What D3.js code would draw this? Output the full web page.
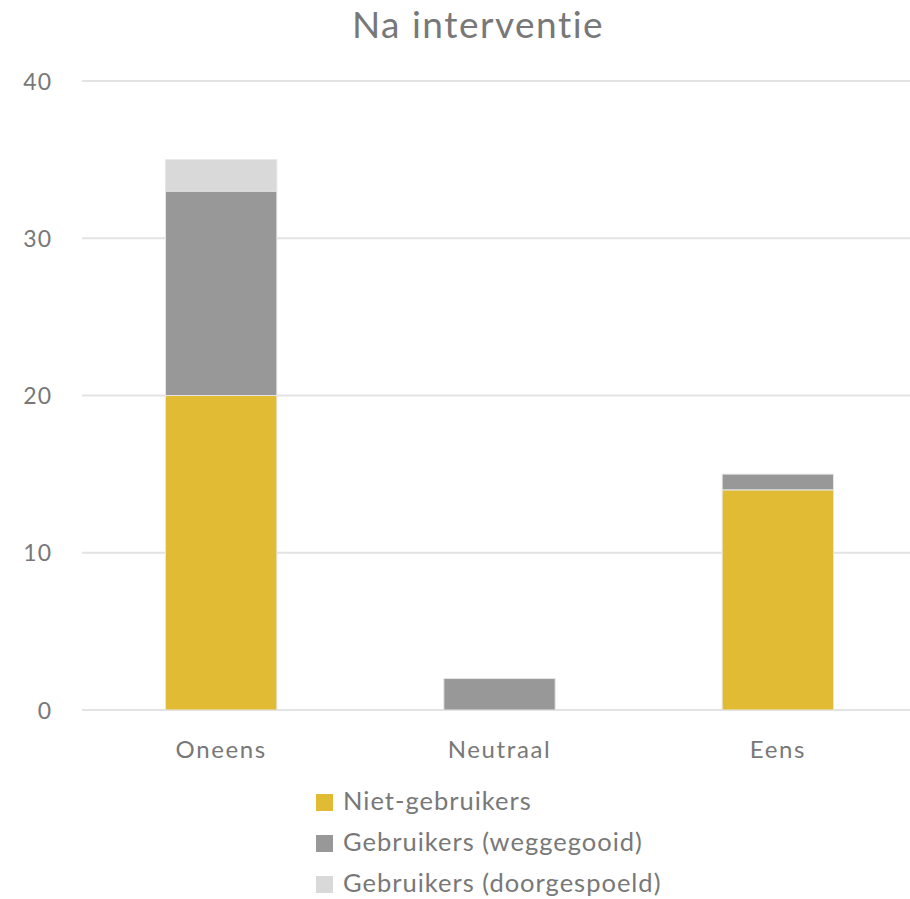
<!DOCTYPE html>
<html>
<head>
<meta charset="utf-8">
<script src="https://cdn.jsdelivr.net/npm/d3@7"></script>
<style>
  body { margin: 0; background: #fff; }
  svg text { font-family: Lato, "Noto Sans", sans-serif; fill: #787878; }
</style>
</head>
<body>
<svg id="chart" width="910" height="899"></svg>
<script>
// Chart data
const categories = ["Oneens", "Neutraal", "Eens"];
const seriesNames = ["Niet-gebruikers", "Gebruikers (weggegooid)", "Gebruikers (doorgespoeld)"];
const nietGebruikers = [20, 0, 14];
const weggegooid = [13, 2, 1];
const doorgespoeld = [2, 0, 0];
const yTicks = [0, 10, 20, 30, 40];
const colors = ["#E1BB33", "#989898", "#D9D9D9"];

const svg = d3.select("#chart");
const margin = { left: 82, right: -7, top: 81, bottom: 189 };
const W = 910, H = 899;

const rows = categories.map((c, i) => ({
  cat: c,
  [seriesNames[0]]: nietGebruikers[i],
  [seriesNames[1]]: weggegooid[i],
  [seriesNames[2]]: doorgespoeld[i]
}));
const stacked = d3.stack().keys(seriesNames)(rows);

const x = d3.scaleBand().domain(categories)
  .range([margin.left, W - margin.right]).paddingInner(0.6).paddingOuter(0.3);
const y = d3.scaleLinear().domain([0, 40]).range([H - margin.bottom, margin.top]);

// Title
svg.append("text").attr("x", 478).attr("y", 38).attr("text-anchor", "middle")
  .style("font-size", "37px").style("letter-spacing", "1.5px").text("Na interventie");

// Gridlines
svg.append("g").selectAll("line").data(yTicks).join("line")
  .attr("x1", margin.left).attr("x2", W)
  .attr("y1", d => y(d)).attr("y2", d => y(d))
  .attr("stroke", "#E3E3E3").attr("stroke-width", 2);

// Y axis labels
const yAxis = svg.append("g").attr("transform", `translate(${margin.left - 30},0)`)
  .call(d3.axisLeft(y).tickValues(yTicks).tickSize(0).tickPadding(0));
yAxis.select(".domain").remove();
yAxis.selectAll("text").style("font-size", "23px").style("letter-spacing", "1px").attr("dy", "0.35em");

// Bars
svg.append("g").selectAll("g").data(stacked).join("g")
  .attr("fill", (d, i) => colors[i])
  .selectAll("rect").data(d => d.filter(s => s[1] - s[0] > 0)).join("rect")
  .attr("x", d => x(d.data.cat))
  .attr("width", x.bandwidth())
  .attr("y", d => y(d[1]))
  .attr("height", d => y(d[0]) - y(d[1]))
  .attr("stroke", "#E6E6E6").attr("stroke-width", 1);

// X axis labels
const xAxis = svg.append("g").attr("transform", `translate(0,${y(0) + 26})`)
  .call(d3.axisBottom(x).tickSize(0).tickPadding(0));
xAxis.select(".domain").remove();
xAxis.selectAll("text").style("font-size", "24px").style("letter-spacing", "1.6px").attr("dy", "0.9em");

// Legend
const legend = svg.append("g").selectAll("g").data(seriesNames).join("g")
  .attr("transform", (d, i) => `translate(316,${794 + i * 41})`);
legend.append("rect").attr("width", 17).attr("height", 17)
  .attr("fill", (d, i) => colors[i]);
legend.append("text").attr("x", 27).attr("y", 16)
  .style("font-size", "25.5px").style("letter-spacing", "1px").text(d => d);
</script>
</body>
</html>
